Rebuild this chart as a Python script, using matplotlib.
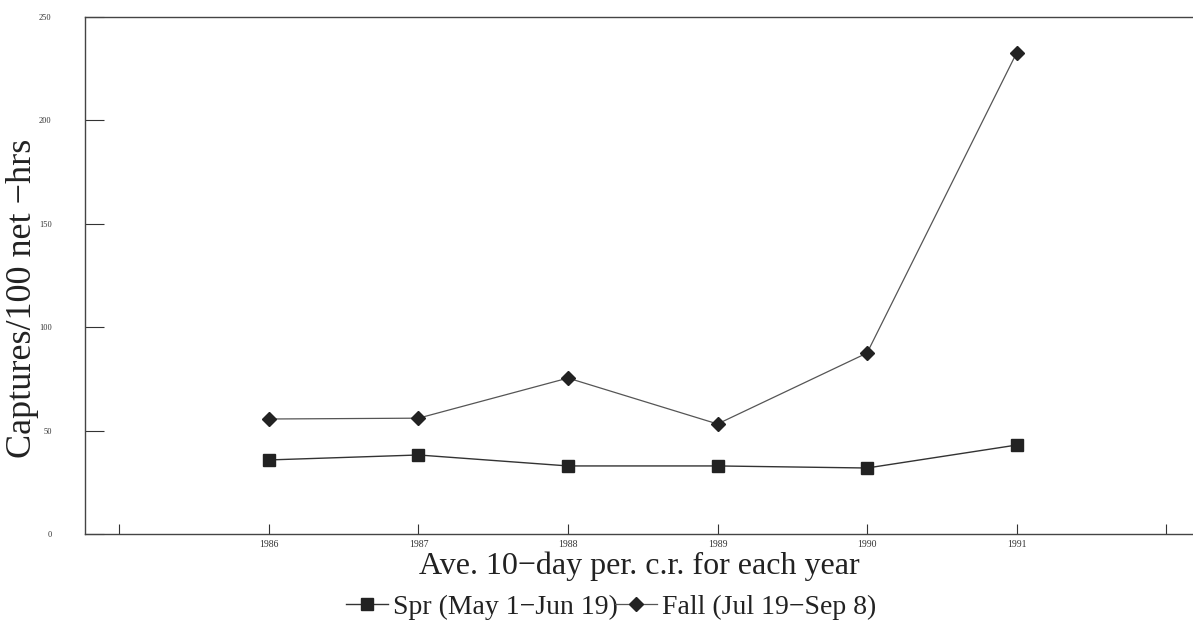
import matplotlib.pyplot as plt

years = [1986, 1987, 1988, 1989, 1990, 1991]
spr = [35.8, 38.2, 32.9, 32.9, 31.9, 43.0]
fall = [55.6, 56.0, 75.4, 53.2, 87.5, 232.6]
xticks = [1985, 1986, 1987, 1988, 1989, 1990, 1991, 1992]
xticklabels = ['', '1986', '1987', '1988', '1989', '1990', '1991', '']
yticks = [0, 50, 100, 150, 200, 250]

plt.rcParams['font.family'] = ['Liberation Serif', 'DejaVu Serif']

fig = plt.figure(figsize=(11.93, 6.23), dpi=100)
ax = fig.add_axes([0.0713, 0.1429, 0.9287, 0.8298])

ax.plot(years, spr, color='#333333', lw=1.0, marker='s', ms=8,
        mfc='#222222', mec='#222222', label='Spr (May 1\u2212Jun 19)')
ax.plot(years, fall, color='#555555', lw=0.9, marker='D', ms=7,
        mfc='#222222', mec='#222222', label='Fall (Jul 19\u2212Sep 8)')

ax.set_xlim(1984.77, 1992.18)
ax.set_ylim(0, 250)
ax.set_xticks(xticks)
ax.set_xticklabels(xticklabels, fontsize=7)
ax.set_yticks(yticks)
ax.set_yticklabels([str(v) for v in yticks], fontsize=6)
ax.tick_params(axis='y', direction='in', length=14, width=0.8, pad=24, colors='#333333')
ax.tick_params(axis='x', direction='in', length=7, width=0.8, pad=4, colors='#333333')

for s in ['left', 'bottom', 'top']:
    ax.spines[s].set_color('#444444')
    ax.spines[s].set_linewidth(1.0)
ax.spines['right'].set_visible(False)

ax.set_xlabel('Ave. 10\u2212day per. c.r. for each year', fontsize=23, color='#222222')
ax.xaxis.set_label_coords(0.5, -0.034)
ax.set_ylabel('Captures/100 net \u2212hrs', fontsize=26, color='#222222')
ax.yaxis.set_label_coords(-0.042, 0.456)

ax.legend(loc='center', bbox_to_anchor=(0.475, -0.141), ncol=2, frameon=False,
          fontsize=20, handlelength=1.5, handletextpad=0.2, columnspacing=-0.1,
          numpoints=1, labelcolor='#222222', borderpad=0, borderaxespad=0)

fig.savefig('out.png', dpi=100)
